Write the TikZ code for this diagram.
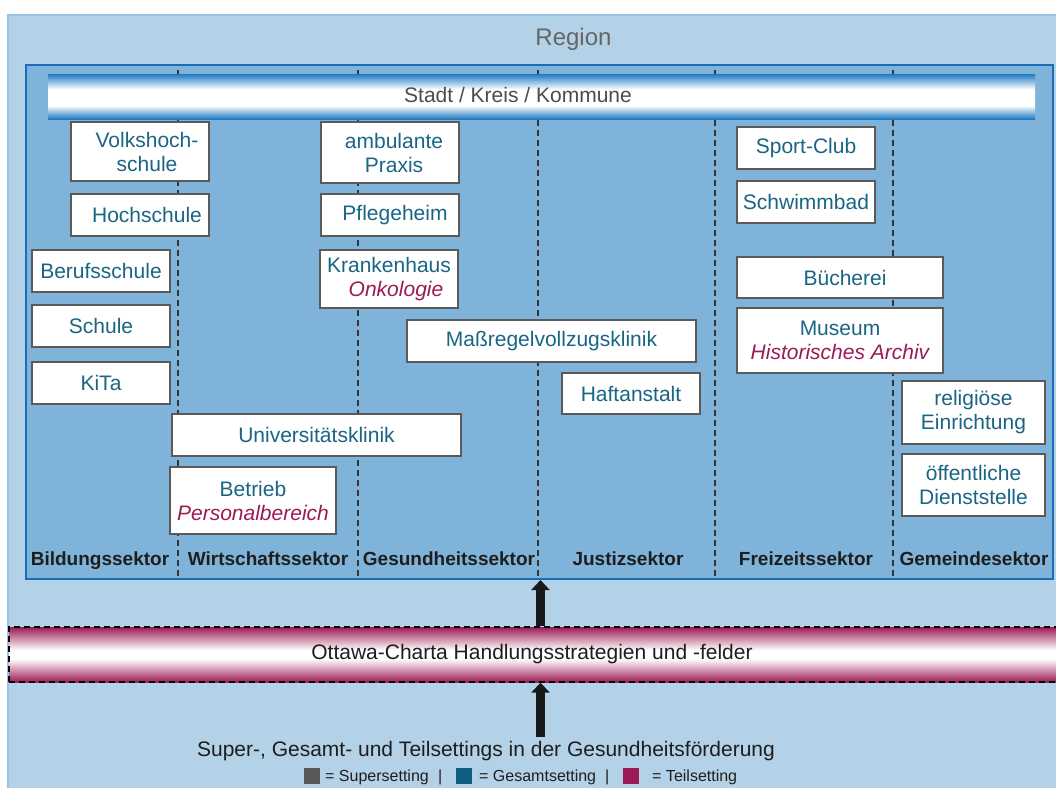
\documentclass[tikz,border=0pt]{standalone}
\usepackage{fontspec}
\setmainfont{Liberation Sans}
\usetikzlibrary{arrows.meta}
\definecolor{outerfill}{HTML}{B4D2E7}
\definecolor{outerline}{HTML}{9CC2E0}
\definecolor{innerfill}{HTML}{7FB3D9}
\definecolor{innerline}{HTML}{1A6DB8}
\definecolor{barblue}{HTML}{1E7AC2}
\definecolor{teil}{HTML}{9B1B55}
\definecolor{gesamt}{HTML}{0F5E7F}
\definecolor{super}{HTML}{595959}
\definecolor{boxtext}{HTML}{1A6584}
\definecolor{boxline}{HTML}{5A5A5A}
\definecolor{darktext}{HTML}{1E1E1E}
\pgfdeclareverticalshading{stadtshade}{100bp}{color(0bp)=(barblue); color(25bp)=(barblue); color(40bp)=(white); color(58bp)=(white); color(75bp)=(barblue); color(100bp)=(barblue)}
\pgfdeclareverticalshading{ottawashade}{100bp}{color(0bp)=(teil); color(25bp)=(teil); color(46bp)=(white); color(54bp)=(white); color(75bp)=(teil); color(100bp)=(teil)}
\begin{document}
\begin{tikzpicture}[x=1pt,y=-1pt,
  box/.style={draw=boxline, line width=1.8pt, fill=white, text=boxtext,
    font=\fontsize{21}{24}\selectfont, align=center, inner sep=0pt},
  sector/.style={font=\fontsize{19}{21}\selectfont\bfseries, text=darktext, anchor=base},
  sepline/.style={draw=darktext!90, line width=1.2pt, dash pattern=on 6pt off 4pt},
  bigarrow/.style={line width=9pt, -{Triangle[width=18pt,length=10pt]}, draw=black!90},
  legsq/.style={minimum size=16pt, inner sep=0pt},
  legtxt/.style={font=\fontsize{16}{18}\selectfont, text=darktext, anchor=base west, inner sep=0pt}]
\useasboundingbox (0,0) rectangle (1056,787);
\fill[white] (0,0) rectangle (1056,787);
\begin{scope}
\clip (0,0) rectangle (1056,787);
% outer region
\node[draw=outerline, line width=1.5pt, fill=outerfill, minimum width=1060pt, minimum height=790pt, inner sep=0pt] (region) at (538,410) {};
\node[font=\fontsize{24}{26}\selectfont, text=black!60, anchor=base] (regionlbl) at (573.5,45.7) {Region};
% inner sector area
\node[draw=innerline, line width=2pt, fill=innerfill, minimum width=1027pt, minimum height=514pt, inner sep=0pt] (sectors) at (539.5,322) {};
% dashed separators
\foreach \xx in {178,358,538,715,893}
  \draw[sepline] (\xx,70) -- (\xx,578);
% Stadt bar
\node[minimum width=987pt, minimum height=45pt, inner sep=0pt, shading=stadtshade] (stadt) at (541.5,96.5) {};
\node[font=\fontsize{21}{24}\selectfont, text=black!70, anchor=base] (stadtlbl) at (518,102) {Stadt / Kreis / Kommune};
% boxes
\node[box, minimum width=138pt, minimum height=59pt] (vhs) at (140,151.5) {\hspace*{14pt}Volkshoch-\\\hspace*{14pt}schule};
\node[box, minimum width=138pt, minimum height=42pt] (hs) at (140,215) {\hspace*{14pt}Hochschule};
\node[box, minimum width=138pt, minimum height=42pt] (bs) at (101,271) {Berufsschule};
\node[box, minimum width=138pt, minimum height=42pt] (schule) at (101,326) {Schule};
\node[box, minimum width=138pt, minimum height=42pt] (kita) at (101,383) {KiTa};
\node[box, minimum width=138pt, minimum height=61pt] (amb) at (390,152.5) {\hspace*{8pt}ambulante\\\hspace*{8pt}Praxis};
\node[box, minimum width=138pt, minimum height=42pt] (pfl) at (390,215) {\hspace*{10pt}Pflegeheim};
\node[box, minimum width=138pt, minimum height=58pt] (kh) at (389,279) {Krankenhaus\\\hspace*{14pt}{\color{teil}\itshape Onkologie}};
\node[box, minimum width=289pt, minimum height=42pt] (mrv) at (551.5,341) {Maßregelvollzugsklinik};
\node[box, minimum width=138pt, minimum height=41pt] (haft) at (631,393.5) {Haftanstalt};
\node[box, minimum width=138pt, minimum height=42pt] (sport) at (806,148) {Sport-Club};
\node[box, minimum width=138pt, minimum height=42pt] (schwimm) at (806,202) {Schwimmbad};
\node[box, minimum width=206pt, minimum height=41pt] (buech) at (840,277.5) {\hspace*{10pt}Bücherei};
\node[box, minimum width=206pt, minimum height=65pt] (museum) at (840,340.5) {Museum\\{\color{teil}\itshape Historisches Archiv}};
\node[box, minimum width=143pt, minimum height=63pt] (relig) at (973.5,412.5) {religiöse\\Einrichtung};
\node[box, minimum width=143pt, minimum height=62pt] (oeff) at (973.5,485) {öffentliche\\Dienststelle};
\node[box, minimum width=289pt, minimum height=42pt] (uni) at (316.5,435) {Universitätsklinik};
\node[box, minimum width=166pt, minimum height=67pt] (betrieb) at (253,500.5) {Betrieb\\{\color{teil}\itshape Personalbereich}};
% sector labels
\node[sector] (s1) at (100,565) {Bildungssektor};
\node[sector] (s2) at (268,565) {Wirtschaftssektor};
\node[sector] (s3) at (449,565) {Gesundheitssektor};
\node[sector] (s4) at (628,565) {Justizsektor};
\node[sector] (s5) at (806,565) {Freizeitssektor};
\node[sector] (s6) at (974,565) {Gemeindesektor};
% Ottawa bar
\node[draw=black, line width=1.3pt, dash pattern=on 6pt off 4pt, minimum width=1058pt, minimum height=55pt, inner sep=0pt, shading=ottawashade] (ottawa) at (538,654.5) {};
\node[font=\fontsize{21}{24}\selectfont, text=darktext] (ottawalbl) at (532,654.5) {Ottawa-Charta Handlungsstrategien und -felder};
% bottom text
\node[font=\fontsize{21}{24}\selectfont, text=darktext, anchor=base] (settings) at (486,756.7) {Super-, Gesamt- und Teilsettings in der Gesundheitsförderung};
\coordinate (ax) at (540.5,0);
\coordinate (lowstart) at (540.5,737);
% arrows
\draw[bigarrow] (ottawa.north -| ax) -- (sectors.south -| ax);
\draw[bigarrow] (lowstart) -- (ottawa.south -| ax);
% legend
\node[legsq, fill=super] (lsq1) at (312,776) {};
\node[legtxt] (lt1) at (325,781) {= Supersetting};
\node[legtxt] (lp1) at (438,781) {|};
\node[legsq, fill=gesamt] (lsq2) at (464,776) {};
\node[legtxt] (lt2) at (479,781) {= Gesamtsetting};
\node[legtxt] (lp2) at (605,781) {|};
\node[legsq, fill=teil] (lsq3) at (631,776) {};
\node[legtxt] (lt3) at (652,781) {= Teilsetting};
\end{scope}
\end{tikzpicture}
\end{document}
